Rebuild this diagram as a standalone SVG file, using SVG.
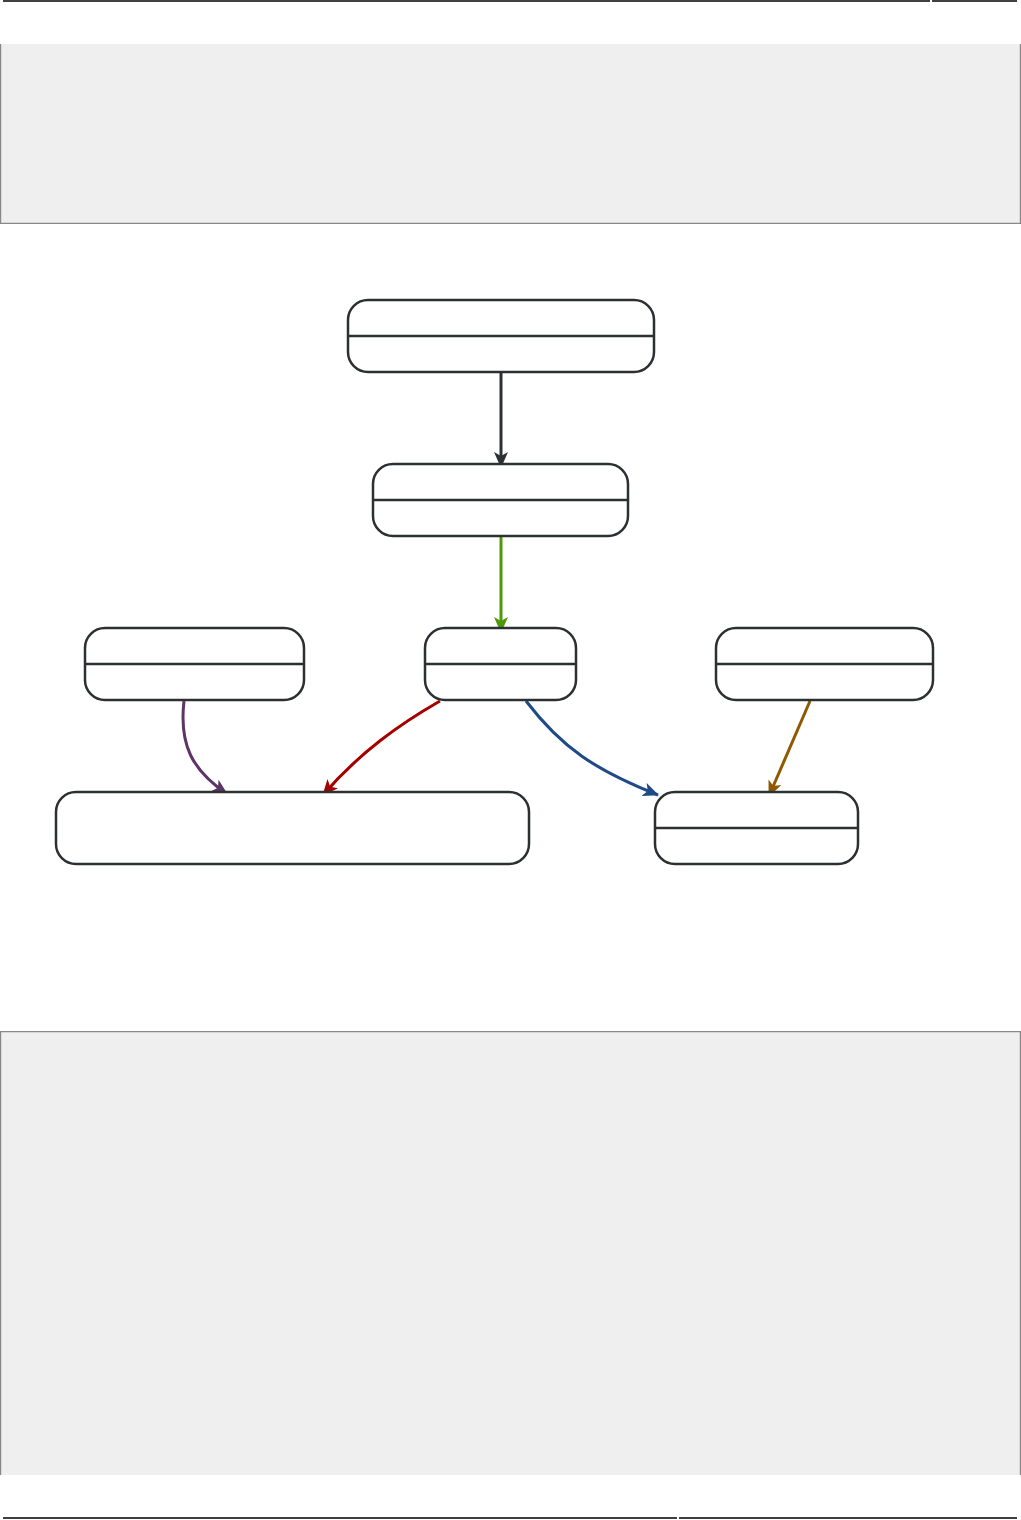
<svg xmlns="http://www.w3.org/2000/svg" width="1021" height="1520" viewBox="0 0 1021 1520">
<style>
.node rect{fill:#ffffff;stroke:#2d3033;stroke-width:2.5}
.node line{stroke:#2d3033;stroke-width:2.5}
.edge{fill:none;stroke-width:3}
.panel{fill:#efefef}
.pb{fill:none;stroke:#888;stroke-width:1.2}
.rule{stroke:#000;stroke-width:1.5}
</style>
<defs>
<marker id="a-dark" viewBox="0 0 16 14" refX="15" refY="7" markerWidth="16" markerHeight="14" markerUnits="userSpaceOnUse" orient="auto"><path d="M0,0 L16,7 L0,14 L4,7 z" fill="#2d3033"/></marker>
<marker id="a-green" viewBox="0 0 16 14" refX="15" refY="7" markerWidth="16" markerHeight="14" markerUnits="userSpaceOnUse" orient="auto"><path d="M0,0 L16,7 L0,14 L4,7 z" fill="#4e9a06"/></marker>
<marker id="a-purple" viewBox="0 0 16 14" refX="15" refY="7" markerWidth="16" markerHeight="14" markerUnits="userSpaceOnUse" orient="auto"><path d="M0,0 L16,7 L0,14 L4,7 z" fill="#5c3566"/></marker>
<marker id="a-red" viewBox="0 0 16 14" refX="15" refY="7" markerWidth="16" markerHeight="14" markerUnits="userSpaceOnUse" orient="auto"><path d="M0,0 L16,7 L0,14 L4,7 z" fill="#a40000"/></marker>
<marker id="a-blue" viewBox="0 0 16 14" refX="15" refY="7" markerWidth="16" markerHeight="14" markerUnits="userSpaceOnUse" orient="auto"><path d="M0,0 L16,7 L0,14 L4,7 z" fill="#204a87"/></marker>
<marker id="a-brown" viewBox="0 0 16 14" refX="15" refY="7" markerWidth="16" markerHeight="14" markerUnits="userSpaceOnUse" orient="auto"><path d="M0,0 L16,7 L0,14 L4,7 z" fill="#8f5902"/></marker>
</defs>
<rect width="1021" height="1520" fill="#ffffff"/>
<g id="page">
<line class="rule" x1="3" y1="1" x2="930" y2="1"/>
<line class="rule" x1="932" y1="1" x2="1017" y2="1"/>
<rect class="panel" x="0" y="44" width="1021" height="180"/>
<path class="pb" d="M0.6,44 V223.4 H1020.4 V44"/>
<rect class="panel" x="0" y="1031" width="1021" height="444"/>
<path class="pb" d="M0.6,1475 V1031.6 H1020.4 V1475"/>
<line class="rule" x1="3" y1="1518" x2="677" y2="1518"/>
<line class="rule" x1="679" y1="1518" x2="1017" y2="1518"/>
</g>
<g id="connectors">
<path class="edge" stroke="#2d3033" d="M501,373 V467" marker-end="url(#a-dark)"/>
<path class="edge" stroke="#4e9a06" d="M501,537 V632" marker-end="url(#a-green)"/>
<path class="edge" stroke="#5c3566" d="M184,701 C179,745 192,770 227,794" marker-end="url(#a-purple)"/>
<path class="edge" stroke="#a40000" d="M440,701 C400,724 360,752 323,795" marker-end="url(#a-red)"/>
<path class="edge" stroke="#204a87" d="M526,701 C562,748 595,770 658,795" marker-end="url(#a-blue)"/>
<path class="edge" stroke="#8f5902" d="M810,701 L769,796" marker-end="url(#a-brown)"/>
</g>
<g id="n1" class="node"><rect x="348" y="300" width="306" height="72" rx="20"/><line x1="348" y1="336" x2="654" y2="336"/></g>
<g id="n2" class="node"><rect x="373" y="464" width="255" height="72" rx="20"/><line x1="373" y1="500" x2="628" y2="500"/></g>
<g id="n3" class="node"><rect x="425" y="628" width="151" height="72" rx="20"/><line x1="425" y1="664" x2="576" y2="664"/></g>
<g id="n4" class="node"><rect x="85" y="628" width="219" height="72" rx="20"/><line x1="85" y1="664" x2="304" y2="664"/></g>
<g id="n5" class="node"><rect x="716" y="628" width="217" height="72" rx="20"/><line x1="716" y1="664" x2="933" y2="664"/></g>
<g id="n6" class="node"><rect x="56" y="792" width="473" height="72" rx="20"/></g>
<g id="n7" class="node"><rect x="655" y="792" width="203" height="72" rx="20"/><line x1="655" y1="828" x2="858" y2="828"/></g>
</svg>
